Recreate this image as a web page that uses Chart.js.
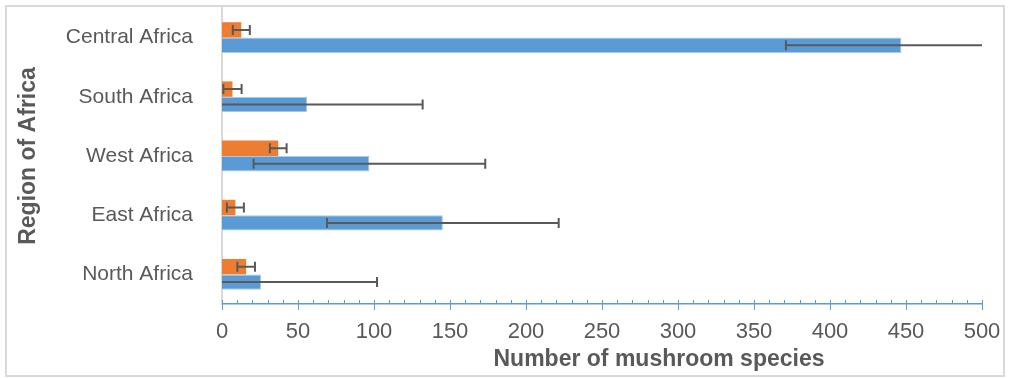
<!DOCTYPE html>
<html>
<head>
<meta charset="utf-8">
<script src="https://cdn.jsdelivr.net/npm/chart.js@4.4.1/dist/chart.umd.min.js"></script>
<style>
  html, body { margin: 0; padding: 0; background: #fff; }
  #wrap { width: 1010px; height: 378px; }
</style>
</head>
<body>
<div id="wrap"><canvas id="grafico" width="1010" height="378"></canvas></div>
<script>
// data (top row first)
var regioes = ['Central Africa', 'South Africa', 'West Africa', 'East Africa', 'North Africa']
var laranja = [12.7, 6.9, 37, 8.8, 15.9]
var laranjaErro = [5.6, 6, 5.5, 5.6, 5.8]
var azul = [447, 56, 97, 145.3, 25.7]
var azulErro = [76, 76, 76.2, 76.2, 76.3]

var fonte = "'Liberation Sans', Arial, sans-serif"
var cinza = '#595959'

// box around the whole chart
var moldura = {
    id: 'moldura',
    beforeDraw: function (chart) {
        var ctx = chart.ctx
        ctx.save()
        ctx.fillStyle = '#fff'
        ctx.fillRect(0, 0, chart.width, chart.height)
        ctx.strokeStyle = '#d9d9d9'
        ctx.lineWidth = 2
        ctx.strokeRect(6, 6, 998, 370)
        ctx.restore()
    }
}

// +/- error bars, clipped to the plot area
var barrasErro = {
    id: 'barrasErro',
    afterDatasetsDraw: function (chart) {
        var ctx = chart.ctx
        var x = chart.scales.x
        var area = chart.chartArea
        ctx.save()
        ctx.strokeStyle = cinza
        ctx.lineWidth = 2
        chart.data.datasets.forEach(function (ds, i) {
            chart.getDatasetMeta(i).data.forEach(function (bar, j) {
                var v = ds.data[j]
                var e = ds.erros[j]
                var p1 = x.getPixelForValue(v - e)
                var p2 = x.getPixelForValue(v + e)
                var a = Math.max(p1, area.left)
                var b = Math.min(p2, area.right)
                var y = bar.y
                ctx.beginPath()
                ctx.moveTo(a, y)
                ctx.lineTo(b, y)
                if (p1 >= area.left) { ctx.moveTo(p1, y - 5); ctx.lineTo(p1, y + 5) }
                if (p2 <= area.right) { ctx.moveTo(p2, y - 5); ctx.lineTo(p2, y + 5) }
                ctx.stroke()
            })
        })
        ctx.restore()
    }
}

// major / minor tick marks on the value axis and the axis title
var marcas = {
    id: 'marcas',
    afterDraw: function (chart) {
        var ctx = chart.ctx
        var x = chart.scales.x
        var base = chart.chartArea.bottom
        ctx.save()
        ctx.strokeStyle = '#5B9BD5'
        ctx.lineWidth = 1
        ctx.beginPath()
        for (var v = x.min; v <= x.max; v += 10) {
            var px = Math.round(x.getPixelForValue(v)) + 0.5
            ctx.moveTo(px, base - 4)
            ctx.lineTo(px, v % 50 == 0 ? base + 6 : base)
        }
        ctx.stroke()

        ctx.fillStyle = cinza
        ctx.font = 'bold 23px ' + fonte
        ctx.textAlign = 'center'
        ctx.textBaseline = 'alphabetic'
        ctx.fillText('Number of mushroom species', 659, 366)
        ctx.restore()
    }
}

var dados = {
    labels: regioes,
    datasets: [{
        label: 'laranja',
        data: laranja,
        erros: laranjaErro,
        backgroundColor: '#ED7D31',
        borderWidth: 0
    }, {
        label: 'azul',
        data: azul,
        erros: azulErro,
        backgroundColor: '#5B9BD5',
        borderColor: '#A9C9EA',
        borderWidth: 1
    }]
}

var config = {
    type: 'bar',
    data: dados,
    plugins: [moldura, barrasErro, marcas],
    options: {
        indexAxis: 'y',
        responsive: false,
        animation: false,
        categoryPercentage: 0.52,
        barPercentage: 1,
        layout: { padding: { top: 8, right: 28, left: 0, bottom: 0 } },
        plugins: {
            legend: { display: false },
            tooltip: { enabled: false }
        },
        scales: {
            x: {
                min: 0,
                max: 500,
                ticks: {
                    stepSize: 50,
                    color: cinza,
                    padding: 7,
                    font: { family: fonte, size: 22 }
                },
                grid: { display: false },
                border: { display: true, color: '#5B9BD5', width: 1.5 },
                afterFit: function (scale) {
                    scale.height = 74
                    scale.paddingLeft = 0
                    scale.paddingRight = 0
                }
            },
            y: {
                ticks: {
                    color: cinza,
                    padding: 21,
                    font: { family: fonte, size: 21 }
                },
                grid: { display: false },
                border: { display: true, color: '#d9d9d9', width: 2 },
                title: {
                    display: true,
                    text: 'Region of Africa',
                    color: cinza,
                    padding: { top: 15, bottom: 0 },
                    font: { family: fonte, size: 23, weight: 'bold' }
                },
                afterFit: function (scale) {
                    scale.width = 222
                    scale.paddingTop = 0
                    scale.paddingBottom = 0
                }
            }
        }
    }
}

var myChart = new Chart(document.getElementById('grafico'), config)
</script>
</body>
</html>
